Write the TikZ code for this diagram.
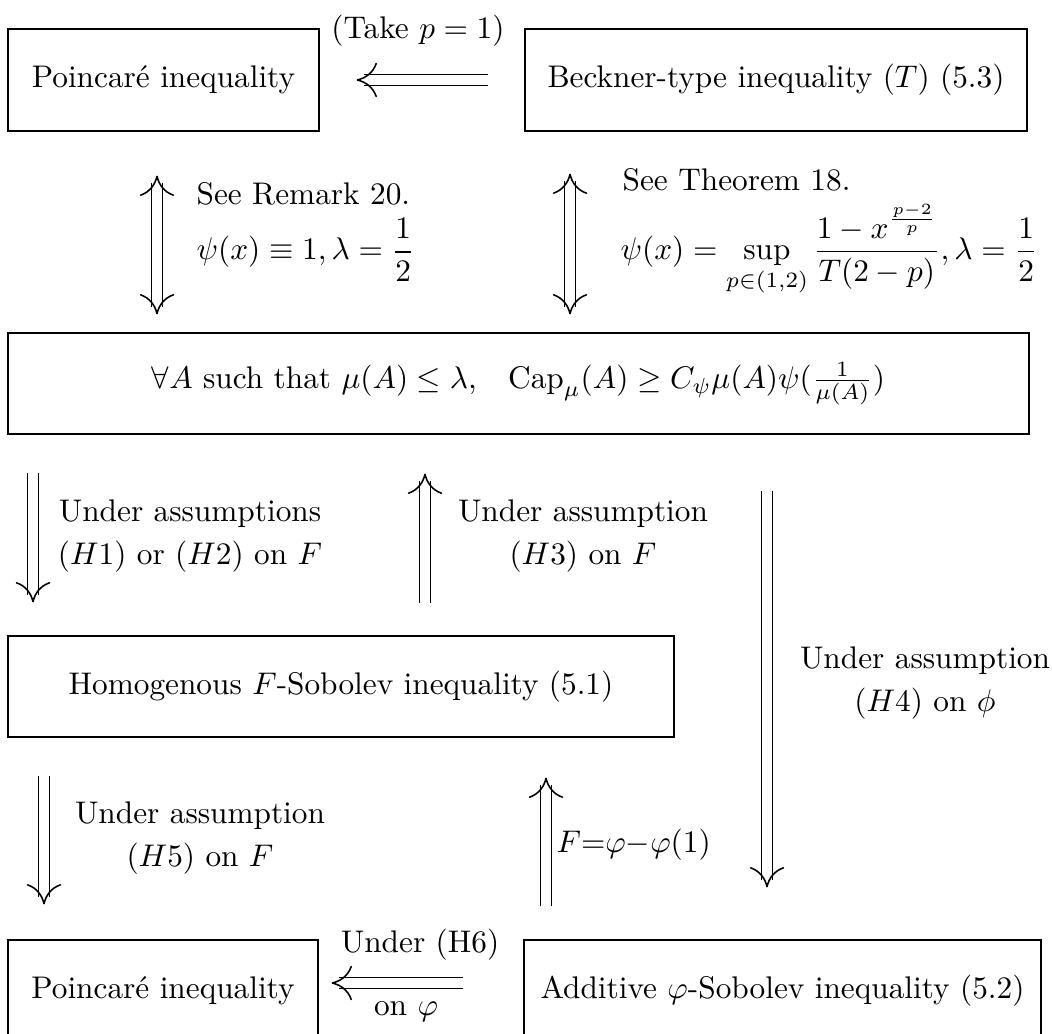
\documentclass[tikz,border=0pt]{standalone}
\usepackage{amsmath,amssymb}
\usepackage{fontspec}
\usetikzlibrary{arrows.meta}
\newcommand\pxu{0.3195pt}
% double shaft + separate curved tip (white centre line is invisible inside the gap)
\newcommand\Imp[4]{%
  \draw[shaft, shorten <=#3, shorten >=#4+2.2pt] #1 -- #2;
  \draw[tipline, shorten <=#3, shorten >=#4] #1 -- #2;}
\newcommand\BImp[4]{%
  \draw[shaft, shorten <=#3+2.2pt, shorten >=#4+2.2pt] #1 -- #2;
  \draw[tipline, cmtip-cmtip, shorten <=#3, shorten >=#4] #1 -- #2;}
\begin{document}
\begin{tikzpicture}[x=0.3195pt,y=-0.3195pt,
  box/.style={draw, line width=0.4pt, inner sep=0pt, minimum height=102*0.3195pt},
  cmtip/.tip={Computer Modern Rightarrow[length=6.5pt,width=11pt,line width=0.5pt,color=black]},
  shaft/.style={double, double distance=3pt, line width=0.5pt},
  tipline/.style={white, line width=0.4pt, -cmtip},
  lab/.style={inner sep=0pt, align=center}]
\useasboundingbox (0,0) rectangle (1052,1034);
% boxes
\node[box, minimum width=311*\pxu] (tl) at (163.5,80) {Poincar\'e inequality};
\node[box, minimum width=502*\pxu] (tr) at (776,80) {Beckner-type inequality $(T)$ (5.3)};
\node[box, minimum width=1021*\pxu, minimum height=101*\pxu] (mid) at (518.5,383.5)
  {$\forall A$ such that $\mu(A)\le\lambda$,\quad $\mathrm{Cap}_\mu(A)\ge C_\psi\mu(A)\psi(\frac{1}{\mu(A)})$};
\node[box, minimum width=666*\pxu, minimum height=101*\pxu] (hom) at (341,686.5) {Homogenous $F$-Sobolev inequality (5.1)};
\node[box, minimum width=310*\pxu] (bl) at (163,991) {Poincar\'e inequality};
\node[box, minimum width=517*\pxu] (br) at (782.5,991) {Additive $\varphi$-Sobolev inequality (5.2)};
% arrows
\Imp{(tr.west)}{(tl.east)}{36*\pxu}{37*\pxu}
\BImp{([xshift=-6.5*\pxu]tl.south)}{([xshift=-6.5*\pxu]tl.south |- mid.north)}{44*\pxu}{18*\pxu}
\BImp{([xshift=-206*\pxu]tr.south)}{([xshift=-206*\pxu]tr.south |- mid.north)}{42*\pxu}{18*\pxu}
\Imp{([xshift=-485.5*\pxu]mid.south)}{([xshift=-485.5*\pxu]mid.south |- hom.north)}{38*\pxu}{33*\pxu}
\Imp{([xshift=-93.5*\pxu]mid.south |- hom.north)}{([xshift=-93.5*\pxu]mid.south)}{32*\pxu}{39*\pxu}
\Imp{([xshift=248.5*\pxu]mid.south)}{([xshift=248.5*\pxu]mid.south |- br.north)}{56*\pxu}{52*\pxu}
\Imp{([xshift=-119*\pxu]bl.north |- hom.south)}{([xshift=-119*\pxu]bl.north)}{38*\pxu}{35*\pxu}
\Imp{([xshift=-236.5*\pxu]br.north)}{([xshift=-236.5*\pxu]br.north |- hom.south)}{33*\pxu}{40*\pxu}
\Imp{([yshift=8*\pxu]br.west)}{([yshift=8*\pxu]br.west -| bl.east)}{60*\pxu}{13*\pxu}
% labels
\node[lab] (take) at (418,31) {(Take $p=1$)};
\node[lab, anchor=west] (rem1) at (196,194) {See Remark 20.};
\node[lab, anchor=west] (rem2) at (196,250) {$\psi(x)\equiv 1, \lambda=\dfrac{1}{2}$};
\node[lab, anchor=west] (thm1) at (622,180) {See Theorem 18.};
\node[lab, anchor=west] (thm2) at (620,250) {$\psi(x)=\displaystyle\sup_{p\in(1,2)}\frac{1-x^{\frac{p-2}{p}}}{T(2-p)}, \lambda=\frac{1}{2}$};
\node[lab] (h12) at (190,536) {Under assumptions\\[1.5pt]$(H1)$ or $(H2)$ on $F$};
\node[lab] (h3) at (583,536) {Under assumption\\[1.5pt]$(H3)$ on $F$};
\node[lab] (h4) at (925,683) {Under assumption\\[1.5pt]$(H4)$ on $\phi$};
\node[lab] (h5) at (200,838) {Under assumption\\[1.5pt]$(H5)$ on $F$};
\node[lab, anchor=west] (fphi) at (556,845) {$F{=}\varphi{-}\varphi(1)$};
\node[lab] (h6) at (420,945) {Under (H6)};
\node[lab] (onphi) at (406,1012) {on $\varphi$};
\end{tikzpicture}
\end{document}
